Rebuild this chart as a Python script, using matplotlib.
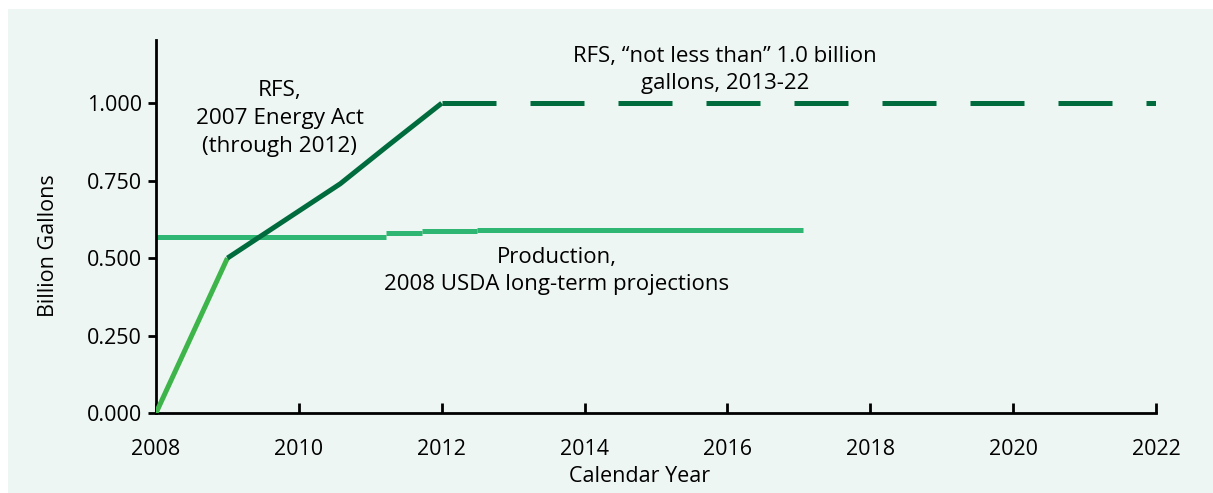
import matplotlib.pyplot as plt
from matplotlib.patches import Rectangle

# ─── data ───
rfs_years = [2008, 2009]
rfs_start_vals = [0.0, 0.5]

rfs_act_years = [2009, 2010.58, 2011.23, 2012]
rfs_act_vals = [0.5, 0.74, 0.86, 1.0]

rfs_floor_years = [2012, 2022]
rfs_floor_vals = [1.0, 1.0]

prod_edges = [2008, 2011.22, 2011.72, 2012.5, 2017.06]
prod_vals = [0.567, 0.581, 0.589, 0.592]

y_ticks = [0.0, 0.25, 0.5, 0.75, 1.0]
x_ticks = [2008, 2010, 2012, 2014, 2016, 2018, 2020, 2022]

# ─── colours ───
PANEL = '#EEF6F3'
DARK = '#006B3C'
LIGHT = '#3DB54A'
PROD = '#2FB672'

plt.rcParams['font.family'] = ['Open Sans', 'DejaVu Sans']

fig = plt.figure(figsize=(12.13, 4.93), dpi=100, facecolor='white')
fig.patches.append(Rectangle((8 / 1213, 0), 1 - 8 / 1213, 1 - 9 / 493,
                             transform=fig.transFigure, facecolor=PANEL,
                             edgecolor='none', zorder=-10))

ax = fig.add_axes([156 / 1213, 80 / 493, 1000 / 1213, 373 / 493])
ax.set_facecolor('none')
ax.set_zorder(5)

# production (step line)
for i, v in enumerate(prod_vals):
    ax.plot([prod_edges[i], prod_edges[i + 1]], [v, v], color=PROD, lw=3.6,
            solid_capstyle='butt', zorder=2)

ax.plot(rfs_years, rfs_start_vals, color=LIGHT, lw=3.6, solid_capstyle='butt', zorder=3)
ax.plot(rfs_act_years, rfs_act_vals, color=DARK, lw=3.6, solid_capstyle='butt', zorder=3)
ax.plot(rfs_floor_years, rfs_floor_vals, color=DARK, lw=3.6,
        dashes=(10.8, 6.8), solid_capstyle='butt', dash_capstyle='butt', zorder=3)

ax.set_xlim(2008, 2022)
ax.set_ylim(0, 1.204)
ax.set_xticks(x_ticks)
ax.set_yticks(y_ticks)
ax.set_yticklabels([f"{v:.3f}" for v in y_ticks])

for s in ['top', 'right']:
    ax.spines[s].set_visible(False)
for s in ['left', 'bottom']:
    ax.spines[s].set_linewidth(2)

ax.tick_params(axis='y', direction='out', length=6, width=2, labelsize=15.5, pad=4)
ax.tick_params(axis='x', direction='in', length=7, width=2, labelsize=15.5, pad=19)

# ─── annotations ───
ax.text(2009.73, 0.951, "RFS,\n2007 Energy Act\n(through 2012)", ha='center', va='center',
        fontsize=16.2, linespacing=1.45)
ax.text(2015.97, 1.107, "RFS, \u201cnot less than\u201d 1.0 billion\ngallons, 2013-22",
        ha='center', va='center', fontsize=16, linespacing=1.4)
ax.text(2013.61, 0.458, "Production,\n2008 USDA long-term projections",
        ha='center', va='center', fontsize=16, linespacing=1.35)

fig.text(640 / 1213, 1 - 476 / 493, "Calendar Year", ha='center', va='center', fontsize=15.5)
fig.text(48 / 1213, 1 - 246 / 493, "Billion Gallons", ha='center', va='center',
         rotation=90, fontsize=15.5)

fig.savefig('out.png', dpi=100, facecolor='white')
